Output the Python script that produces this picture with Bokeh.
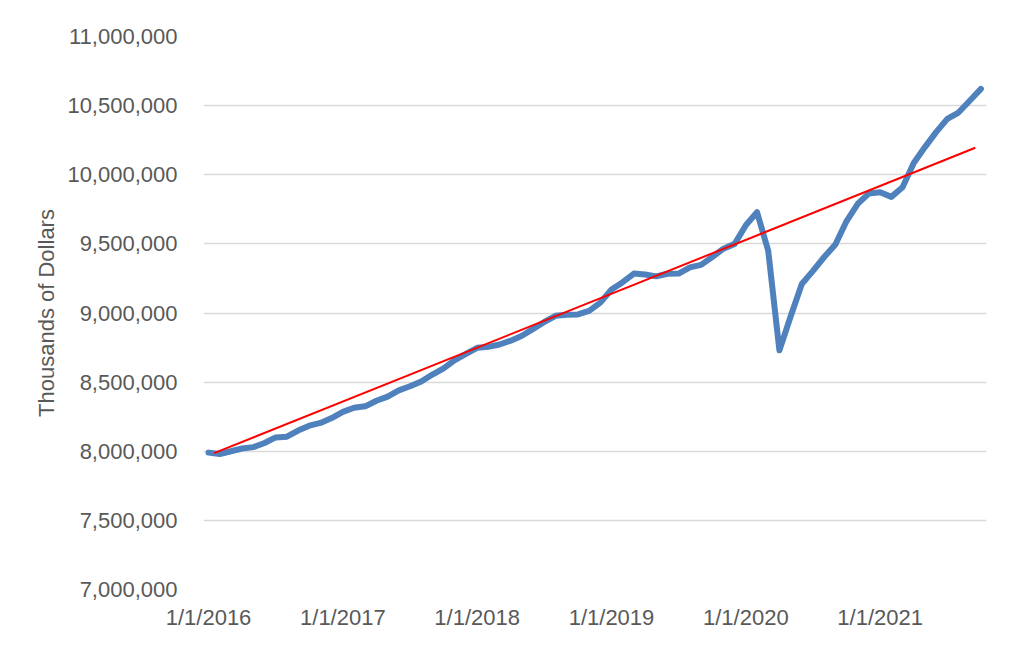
from bokeh.plotting import figure
from bokeh.models import Range1d, FixedTicker, NumeralTickFormatter, SingleIntervalTicker
from bokeh.embed import file_html
from bokeh.resources import INLINE

# Monthly values, Jan 2016 .. Oct 2021 (thousands of dollars)
values = [
    7990000, 7980000, 8000000, 8020000, 8030000, 8060000, 8100000, 8105000, 8150000, 8185000, 8205000, 8240000,  # 2016
    8285000, 8315000, 8325000, 8365000, 8395000, 8440000, 8470000, 8505000, 8555000, 8600000, 8660000, 8705000,  # 2017
    8748000, 8755000, 8772000, 8800000, 8835000, 8885000, 8935000, 8980000, 8988000, 8990000, 9015000, 9075000,  # 2018
    9170000, 9223000, 9285000, 9278000, 9265000, 9284000, 9285000, 9330000, 9348000, 9405000, 9465000, 9500000,  # 2019
    9635000, 9730000, 9450000, 8730000, 8975000, 9210000, 9305000, 9405000, 9495000, 9665000, 9790000, 9865000,  # 2020
    9874000, 9840000, 9910000, 10085000, 10200000, 10308000, 10404000, 10450000, 10535000, 10621000,            # 2021
]
months = list(range(len(values)))  # month index, 0 = Jan 2016

# Trend line end points (month index, value)
trend_months = [0.5, 68.5]
trend_values = [7986000, 10195000]

tick_months = [0, 12, 24, 36, 48, 60]
tick_labels = ["1/1/2016", "1/1/2017", "1/1/2018", "1/1/2019", "1/1/2020", "1/1/2021"]

FONT = "Liberation Sans"
TXT = "#595959"

p = figure(
    output_backend="svg", toolbar_location=None,
    frame_width=783, frame_height=553,
    min_border_left=203, min_border_right=22, min_border_top=36, min_border_bottom=50,
    x_range=Range1d(-0.45, 69.5), y_range=Range1d(7000000, 11000000),
    background_fill_color="white", border_fill_color="white",
)
p.outline_line_color = None

p.line(months, values, line_color="#4F81BD", line_width=6, line_cap="round", line_join="round")
p.line(trend_months, trend_values, line_color="#FF0000", line_width=2)

# Y axis
p.yaxis.ticker = SingleIntervalTicker(interval=500000)
p.yaxis.formatter = NumeralTickFormatter(format="0,0")
p.yaxis.axis_label = "Thousands of Dollars"
p.yaxis.axis_label_text_font = FONT
p.yaxis.axis_label_text_font_style = "normal"
p.yaxis.axis_label_text_font_size = "22px"
p.yaxis.axis_label_text_color = TXT
p.yaxis.axis_label_standoff = 5

# X axis
p.xaxis.ticker = FixedTicker(ticks=tick_months)
p.xaxis.major_label_overrides = {m: l for m, l in zip(tick_months, tick_labels)}

for ax in (p.xaxis, p.yaxis):
    ax.axis_line_color = None
    ax.major_tick_line_color = None
    ax.minor_tick_line_color = None
    ax.major_label_text_font = FONT
    ax.major_label_text_font_size = "22px"
    ax.major_label_text_color = TXT
p.yaxis.major_label_standoff = 20
p.xaxis.major_label_standoff = 9

p.xgrid.grid_line_color = None
p.ygrid.grid_line_color = "#D9D9D9"
p.ygrid.grid_line_width = 1.5

open("out.html", "w").write(file_html(p, INLINE))
